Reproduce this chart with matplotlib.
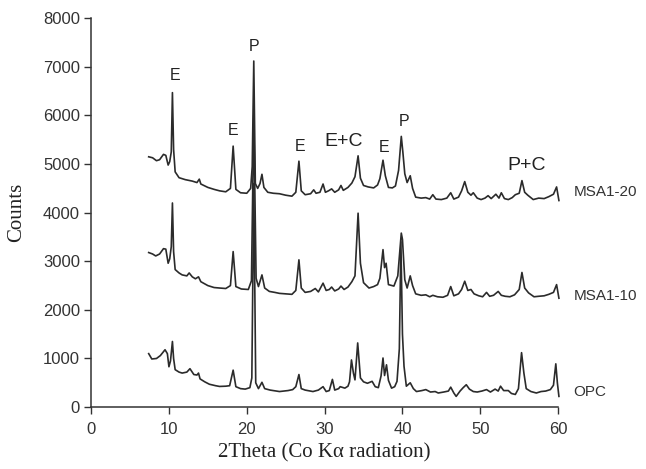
import matplotlib
matplotlib.use("Agg")
import matplotlib.pyplot as plt

# ---- data (2theta, counts) ----
msa1_20 = [(7.4, 5150), (7.9, 5130), (8.4, 5070), (8.8, 5090), (9.3, 5200), (9.6, 5180), (9.9, 4980),
           (10.1, 5050), (10.3, 5250), (10.45, 6470), (10.6, 5300), (10.8, 4840), (11.3, 4720), (12.1, 4680),
           (13.0, 4650), (13.6, 4620), (13.9, 4690), (14.1, 4590), (15.0, 4520), (15.8, 4480), (16.5, 4450),
           (17.3, 4430), (17.9, 4500), (18.25, 5370), (18.6, 4480), (19.2, 4410), (20.0, 4400), (20.5, 4500),
           (20.7, 4950), (20.9, 7120), (21.1, 4600), (21.4, 4500), (21.7, 4600), (21.95, 4790), (22.2, 4520),
           (22.7, 4420), (23.4, 4400), (24.2, 4390), (25.0, 4360), (25.8, 4340), (26.3, 4420), (26.7, 5060),
           (27.0, 4450), (27.5, 4370), (28.2, 4390), (28.6, 4470), (28.9, 4400), (29.4, 4420), (29.8, 4590),
           (30.1, 4420), (30.5, 4450), (30.9, 4490), (31.3, 4420), (31.8, 4470), (32.1, 4560), (32.4, 4460),
           (33.0, 4520), (33.5, 4610), (33.9, 4740), (34.3, 5170), (34.6, 4710), (35.0, 4560), (35.6, 4530),
           (36.3, 4510), (36.8, 4570), (37.1, 4700), (37.5, 5080), (37.8, 4760), (38.2, 4520), (38.7, 4510),
           (39.1, 4550), (39.5, 4870), (39.85, 5570), (40.05, 5250), (40.3, 4800), (40.6, 4620), (41.0, 4760),
           (41.3, 4500), (41.7, 4320), (42.4, 4300), (43.0, 4310), (43.5, 4280), (43.9, 4370), (44.3, 4280),
           (45.0, 4270), (45.7, 4300), (46.2, 4410), (46.6, 4280), (47.2, 4320), (47.6, 4450), (48.0, 4640),
           (48.4, 4420), (48.8, 4360), (49.1, 4410), (49.6, 4300), (50.1, 4270), (50.6, 4300), (51.0, 4350),
           (51.4, 4290), (52.0, 4380), (52.4, 4300), (52.7, 4410), (53.1, 4290), (53.6, 4270), (54.1, 4310),
           (54.5, 4370), (55.0, 4400), (55.35, 4660), (55.7, 4420), (56.1, 4360), (56.8, 4270), (57.5, 4300),
           (58.2, 4290), (58.8, 4330), (59.4, 4380), (59.8, 4530), (60.1, 4250)]

msa1_10 = [(7.4, 3180), (7.9, 3150), (8.3, 3110), (8.8, 3150), (9.3, 3260), (9.6, 3250), (9.9, 2960),
           (10.1, 3050), (10.3, 3300), (10.45, 4200), (10.6, 3200), (10.8, 2830), (11.3, 2760), (11.7, 2720),
           (12.3, 2700), (12.6, 2760), (13.0, 2680), (13.4, 2640), (13.8, 2680), (14.1, 2580), (15.0, 2500),
           (15.8, 2460), (16.5, 2450), (17.3, 2440), (17.9, 2500), (18.25, 3200), (18.6, 2480), (19.3, 2430),
           (20.2, 2420), (20.6, 2600), (20.9, 6000), (21.2, 2650), (21.5, 2480), (21.95, 2720), (22.3, 2450),
           (22.9, 2380), (23.6, 2360), (24.2, 2340), (25.0, 2330), (25.8, 2320), (26.3, 2400), (26.7, 3030),
           (27.0, 2450), (27.5, 2360), (28.2, 2380), (28.8, 2440), (29.2, 2370), (29.8, 2550), (30.2, 2400),
           (30.6, 2420), (30.9, 2470), (31.3, 2390), (31.8, 2430), (32.1, 2490), (32.5, 2420), (33.0, 2470),
           (33.5, 2580), (33.9, 2700), (34.3, 3990), (34.6, 2960), (35.0, 2560), (35.7, 2450), (36.3, 2480),
           (36.8, 2520), (37.1, 2650), (37.5, 3240), (37.7, 2870), (37.9, 2960), (38.2, 2520), (38.9, 2490),
           (39.4, 2700), (39.85, 3580), (40.0, 3450), (40.3, 2620), (40.6, 2450), (41.0, 2700), (41.3, 2500),
           (41.7, 2330), (42.4, 2300), (43.0, 2310), (43.5, 2270), (43.9, 2300), (44.5, 2270), (45.2, 2260),
           (45.8, 2300), (46.2, 2480), (46.6, 2290), (47.2, 2330), (47.6, 2420), (48.0, 2590), (48.4, 2400),
           (48.8, 2420), (49.2, 2330), (49.8, 2290), (50.3, 2270), (50.8, 2360), (51.2, 2280), (51.7, 2300),
           (52.3, 2380), (52.7, 2300), (53.2, 2280), (53.8, 2270), (54.4, 2310), (55.0, 2420), (55.35, 2770),
           (55.7, 2450), (56.2, 2350), (56.9, 2270), (57.5, 2280), (58.2, 2290), (58.8, 2320), (59.4, 2360),
           (59.8, 2520), (60.1, 2240)]

opc = [(7.4, 1100), (7.8, 990), (8.4, 1000), (8.9, 1060), (9.5, 1180), (9.8, 1100), (10.0, 830),
       (10.2, 950), (10.45, 1350), (10.6, 1000), (10.8, 770), (11.3, 720), (11.7, 700), (12.3, 720),
       (12.7, 790), (13.2, 670), (13.6, 660), (13.8, 700), (14.0, 580), (14.6, 520), (15.2, 470), (16.0, 440),
       (16.5, 425), (17.3, 430), (17.8, 440), (18.25, 760), (18.6, 420), (19.2, 380), (19.8, 370), (20.4, 400),
       (20.65, 600), (20.9, 4600), (21.15, 500), (21.5, 380), (21.95, 510), (22.3, 380), (23.0, 350),
       (24.2, 320), (25.3, 340), (25.9, 360), (26.3, 420), (26.7, 670), (27.0, 380), (27.5, 350), (28.5, 320),
       (29.2, 350), (29.8, 420), (30.2, 320), (30.6, 340), (31.0, 570), (31.3, 350), (31.8, 380), (32.0, 420),
       (32.6, 390), (33.0, 430), (33.2, 520), (33.45, 970), (33.7, 700), (33.9, 560), (34.25, 1320),
       (34.6, 600), (35.0, 520), (35.5, 490), (36.1, 530), (36.5, 420), (36.9, 400), (37.25, 640),
       (37.5, 1010), (37.7, 650), (37.95, 870), (38.2, 550), (38.6, 390), (39.0, 420), (39.3, 530),
       (39.6, 1200), (39.8, 3400), (40.0, 1500), (40.2, 840), (40.5, 430), (41.0, 500), (41.4, 380),
       (41.8, 320), (42.5, 340), (43.0, 360), (43.6, 310), (44.2, 320), (44.6, 290), (45.3, 310), (45.9, 330),
       (46.2, 410), (46.6, 290), (46.9, 220), (47.4, 330), (47.8, 400), (48.2, 460), (48.6, 370), (49.1, 320),
       (49.6, 310), (50.2, 330), (50.8, 360), (51.3, 310), (51.9, 370), (52.3, 330), (52.6, 430), (53.0, 340),
       (53.6, 340), (54.0, 280), (54.5, 260), (54.9, 380), (55.3, 1120), (55.6, 700), (55.9, 380), (56.5, 320),
       (57.2, 290), (57.8, 320), (58.4, 330), (59.0, 360), (59.4, 450), (59.7, 890), (59.9, 500), (60.1, 220)]

series_names = ["MSA1-20", "MSA1-10", "OPC"]
series_label_y = [4430, 2290, 320]

peak_labels = ["E", "E", "P", "E", "E+C", "E", "P", "P+C"]
peak_label_x = [10.8, 18.3, 21.0, 26.8, 32.4, 37.7, 40.2, 56.0]
peak_label_y = [6830, 5700, 7420, 5360, 5460, 5340, 5880, 4970]
peak_label_big = [False, False, False, False, True, False, False, True]

x_ticks = [0, 10, 20, 30, 40, 50, 60]
y_ticks = [0, 1000, 2000, 3000, 4000, 5000, 6000, 7000, 8000]

# ---- figure ----
fig = plt.figure(figsize=(6.46, 4.69), dpi=100)
ax = fig.add_axes([0.141, 0.132, 0.723, 0.829])

line_color = "#2b2b2b"
for data in (msa1_20, msa1_10, opc):
    xs = [p[0] for p in data]
    ys = [p[1] for p in data]
    ax.plot(xs, ys, color=line_color, lw=1.2, clip_on=False)

sans = ["Liberation Sans", "DejaVu Sans"]
serif = ["Liberation Serif", "DejaVu Serif"]

for name, yy in zip(series_names, series_label_y):
    ax.text(62.0, yy, name, ha="left", va="center", fontsize=11, family=sans, color="#333333")

for lab, lx, ly, big in zip(peak_labels, peak_label_x, peak_label_y, peak_label_big):
    ax.text(lx, ly, lab, ha="center", va="center", fontsize=14 if big else 11.5,
            family=sans, color="#222222")

ax.set_xlim(0, 60)
ax.set_ylim(0, 8000)
ax.set_xticks(x_ticks)
ax.set_yticks(y_ticks)
ax.tick_params(axis="y", direction="out", length=5, width=1, labelsize=12, colors="#333333", pad=3)
ax.tick_params(axis="x", direction="out", length=5, width=1, labelsize=12, colors="#333333", pad=6)
for lbl in ax.get_xticklabels() + ax.get_yticklabels():
    lbl.set_family(sans)
for s in ("top", "right"):
    ax.spines[s].set_visible(False)
for s in ("left", "bottom"):
    ax.spines[s].set_color("#333333")
    ax.spines[s].set_linewidth(1.1)

ax.set_xlabel("2Theta (Co K\u03b1 radiation)", family=serif, fontsize=15, color="#222222", labelpad=4)
ax.set_ylabel("Counts", family=serif, fontsize=15, color="#222222", labelpad=12)

fig.savefig("out.png", dpi=100)
